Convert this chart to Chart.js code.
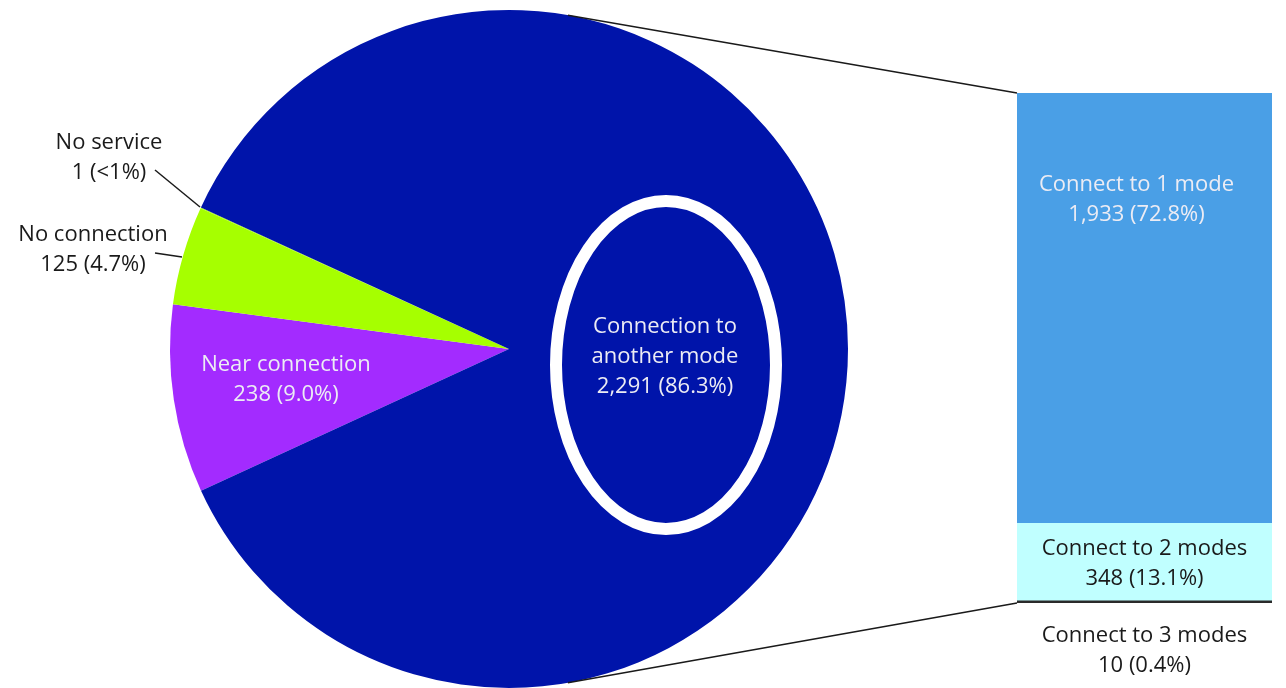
<!DOCTYPE html>
<html>
<head>
<meta charset="utf-8">
<script src="https://cdn.jsdelivr.net/npm/chart.js@4.4.1/dist/chart.umd.min.js"></script>
<style>
  html, body { margin: 0; padding: 0; background: #fff; }
  #wrap { position: relative; width: 1286px; height: 688px; overflow: hidden; }
  #wrap canvas { position: absolute; left: 0; top: 0; }
</style>
</head>
<body>
<div id="wrap">
  <canvas id="pieChart" width="1286" height="688"></canvas>
  <canvas id="barChart" width="1286" height="688"></canvas>
</div>
<script>
// Pie slices, in drawing order (clockwise from the start angle)
const pieLabels = ['Near connection', 'No connection', 'No service', 'Connection to another mode'];
const pieValues = [238, 125, 1, 2291];
const pieColors = ['#A32BFF', '#A6FF00', '#A6FF00', '#0014AA'];

// Breakdown of "Connection to another mode", bottom to top of the bar
const barLabels = ['Connect to 3 modes', 'Connect to 2 modes', 'Connect to 1 mode'];
const barValues = [10, 348, 1933];
const barColors = ['#2a2a2a', '#C0FFFF', '#4A9FE6'];

const total = pieValues.reduce((a, b) => a + b, 0);
const FONT = '22px "Open Sans", "Noto Sans", sans-serif';
const LINE = 30;

function pct(v) {
    const p = v / total * 100;
    return p < 0.3 ? '<1%' : p.toFixed(1) + '%';
}
function valueText(v) {
    return v.toLocaleString('en-US') + ' (' + pct(v) + ')';
}

function drawLines(ctx, lines, x, y, color) {
    ctx.save();
    ctx.font = FONT;
    ctx.fillStyle = color;
    ctx.textAlign = 'center';
    ctx.textBaseline = 'middle';
    const y0 = y - (lines.length - 1) * LINE / 2;
    lines.forEach((t, i) => ctx.fillText(t, x, y0 + i * LINE));
    ctx.restore();
}

// labels around the pie, placed relative to its centre (dx, dy)
const pieLabelPos = [
    { text: ['Near connection'], dx: -223, dy: 31, color: '#ececf4' },
    { text: ['No connection'], dx: -416, dy: -99, color: '#1a1a1a', leader: [-354, -96, -327, -92] },
    { text: ['No service'], dx: -400, dy: -191, color: '#1a1a1a', leader: [-354, -179, -309, -142] },
    { text: ['Connection to', 'another mode'], dx: 156, dy: 8, color: '#ececf4' }
];

const pieDecor = {
    id: 'pieDecor',
    afterDatasetsDraw(chart) {
        const ctx = chart.ctx;
        const arc = chart.getDatasetMeta(0).data[0];
        const cx = arc.x, cy = arc.y;

        // white ring round the big slice's label
        ctx.save();
        ctx.strokeStyle = '#ffffff';
        ctx.lineWidth = 12;
        ctx.beginPath();
        ctx.ellipse(cx + 157, cy + 16, 110, 164, 0, 0, Math.PI * 2);
        ctx.stroke();
        ctx.restore();

        pieLabelPos.forEach((p, i) => {
            const lines = p.text.concat([valueText(pieValues[i])]);
            drawLines(ctx, lines, cx + p.dx, cy + p.dy, p.color);
            if (p.leader) {
                ctx.save();
                ctx.strokeStyle = '#1a1a1a';
                ctx.lineWidth = 1.5;
                ctx.beginPath();
                ctx.moveTo(cx + p.leader[0], cy + p.leader[1]);
                ctx.lineTo(cx + p.leader[2], cy + p.leader[3]);
                ctx.stroke();
                ctx.restore();
            }
        });
    }
};

const pieChart = new Chart(document.getElementById('pieChart'), {
    type: 'pie',
    data: {
        labels: pieLabels,
        datasets: [{
            data: pieValues,
            backgroundColor: pieColors,
            borderWidth: 0
        }]
    },
    options: {
        responsive: false,
        animation: false,
        rotation: 245.3,
        layout: { padding: { left: 170, right: 438, top: 10, bottom: 0 } },
        plugins: { legend: { display: false }, tooltip: { enabled: false } }
    },
    plugins: [pieDecor]
});

const barDecor = {
    id: 'barDecor',
    afterDatasetsDraw(chart) {
        const ctx = chart.ctx;
        const top = chart.getDatasetMeta(2).data[0];
        const bottom = chart.getDatasetMeta(0).data[0];
        const left = top.x - top.width / 2;
        const right = top.x + top.width / 2;
        const yTop = top.y;
        const yBot = bottom.base;

        // connector lines from the big slice to the bar
        const arc = pieChart.getDatasetMeta(0).data[0];
        const r = arc.outerRadius;
        const a = 80 * Math.PI / 180;
        ctx.save();
        ctx.strokeStyle = '#1a1a1a';
        ctx.lineWidth = 1.5;
        ctx.beginPath();
        ctx.moveTo(arc.x + r * Math.cos(-a), arc.y + r * Math.sin(-a));
        ctx.lineTo(left, yTop);
        ctx.moveTo(arc.x + r * Math.cos(a), arc.y + r * Math.sin(a));
        ctx.lineTo(left, yBot);
        ctx.stroke();
        ctx.restore();

        const cx = (left + right) / 2;
        const m2 = chart.getDatasetMeta(1).data[0];
        drawLines(ctx, [barLabels[2], valueText(barValues[2])], cx - 8, yTop + 107, '#ececf4');
        drawLines(ctx, [barLabels[1], valueText(barValues[1])], cx, (m2.y + m2.base) / 2 + 2, '#1a1a1a');
        drawLines(ctx, [barLabels[0], valueText(barValues[0])], cx, yBot + 48, '#1a1a1a');
    }
};

new Chart(document.getElementById('barChart'), {
    type: 'bar',
    data: {
        labels: ['Connection to another mode'],
        datasets: barLabels.map((l, i) => ({
            label: l,
            data: [barValues[i]],
            backgroundColor: barColors[i],
            borderWidth: 0,
            barPercentage: 1,
            categoryPercentage: 1
        }))
    },
    options: {
        responsive: false,
        animation: false,
        layout: { padding: { left: 1017, right: 14, top: 93, bottom: 85 } },
        scales: {
            x: { display: false, stacked: true },
            y: { display: false, stacked: true, min: 0, max: barValues.reduce((a, b) => a + b, 0) }
        },
        plugins: { legend: { display: false }, tooltip: { enabled: false } }
    },
    plugins: [barDecor]
});
</script>
</body>
</html>
